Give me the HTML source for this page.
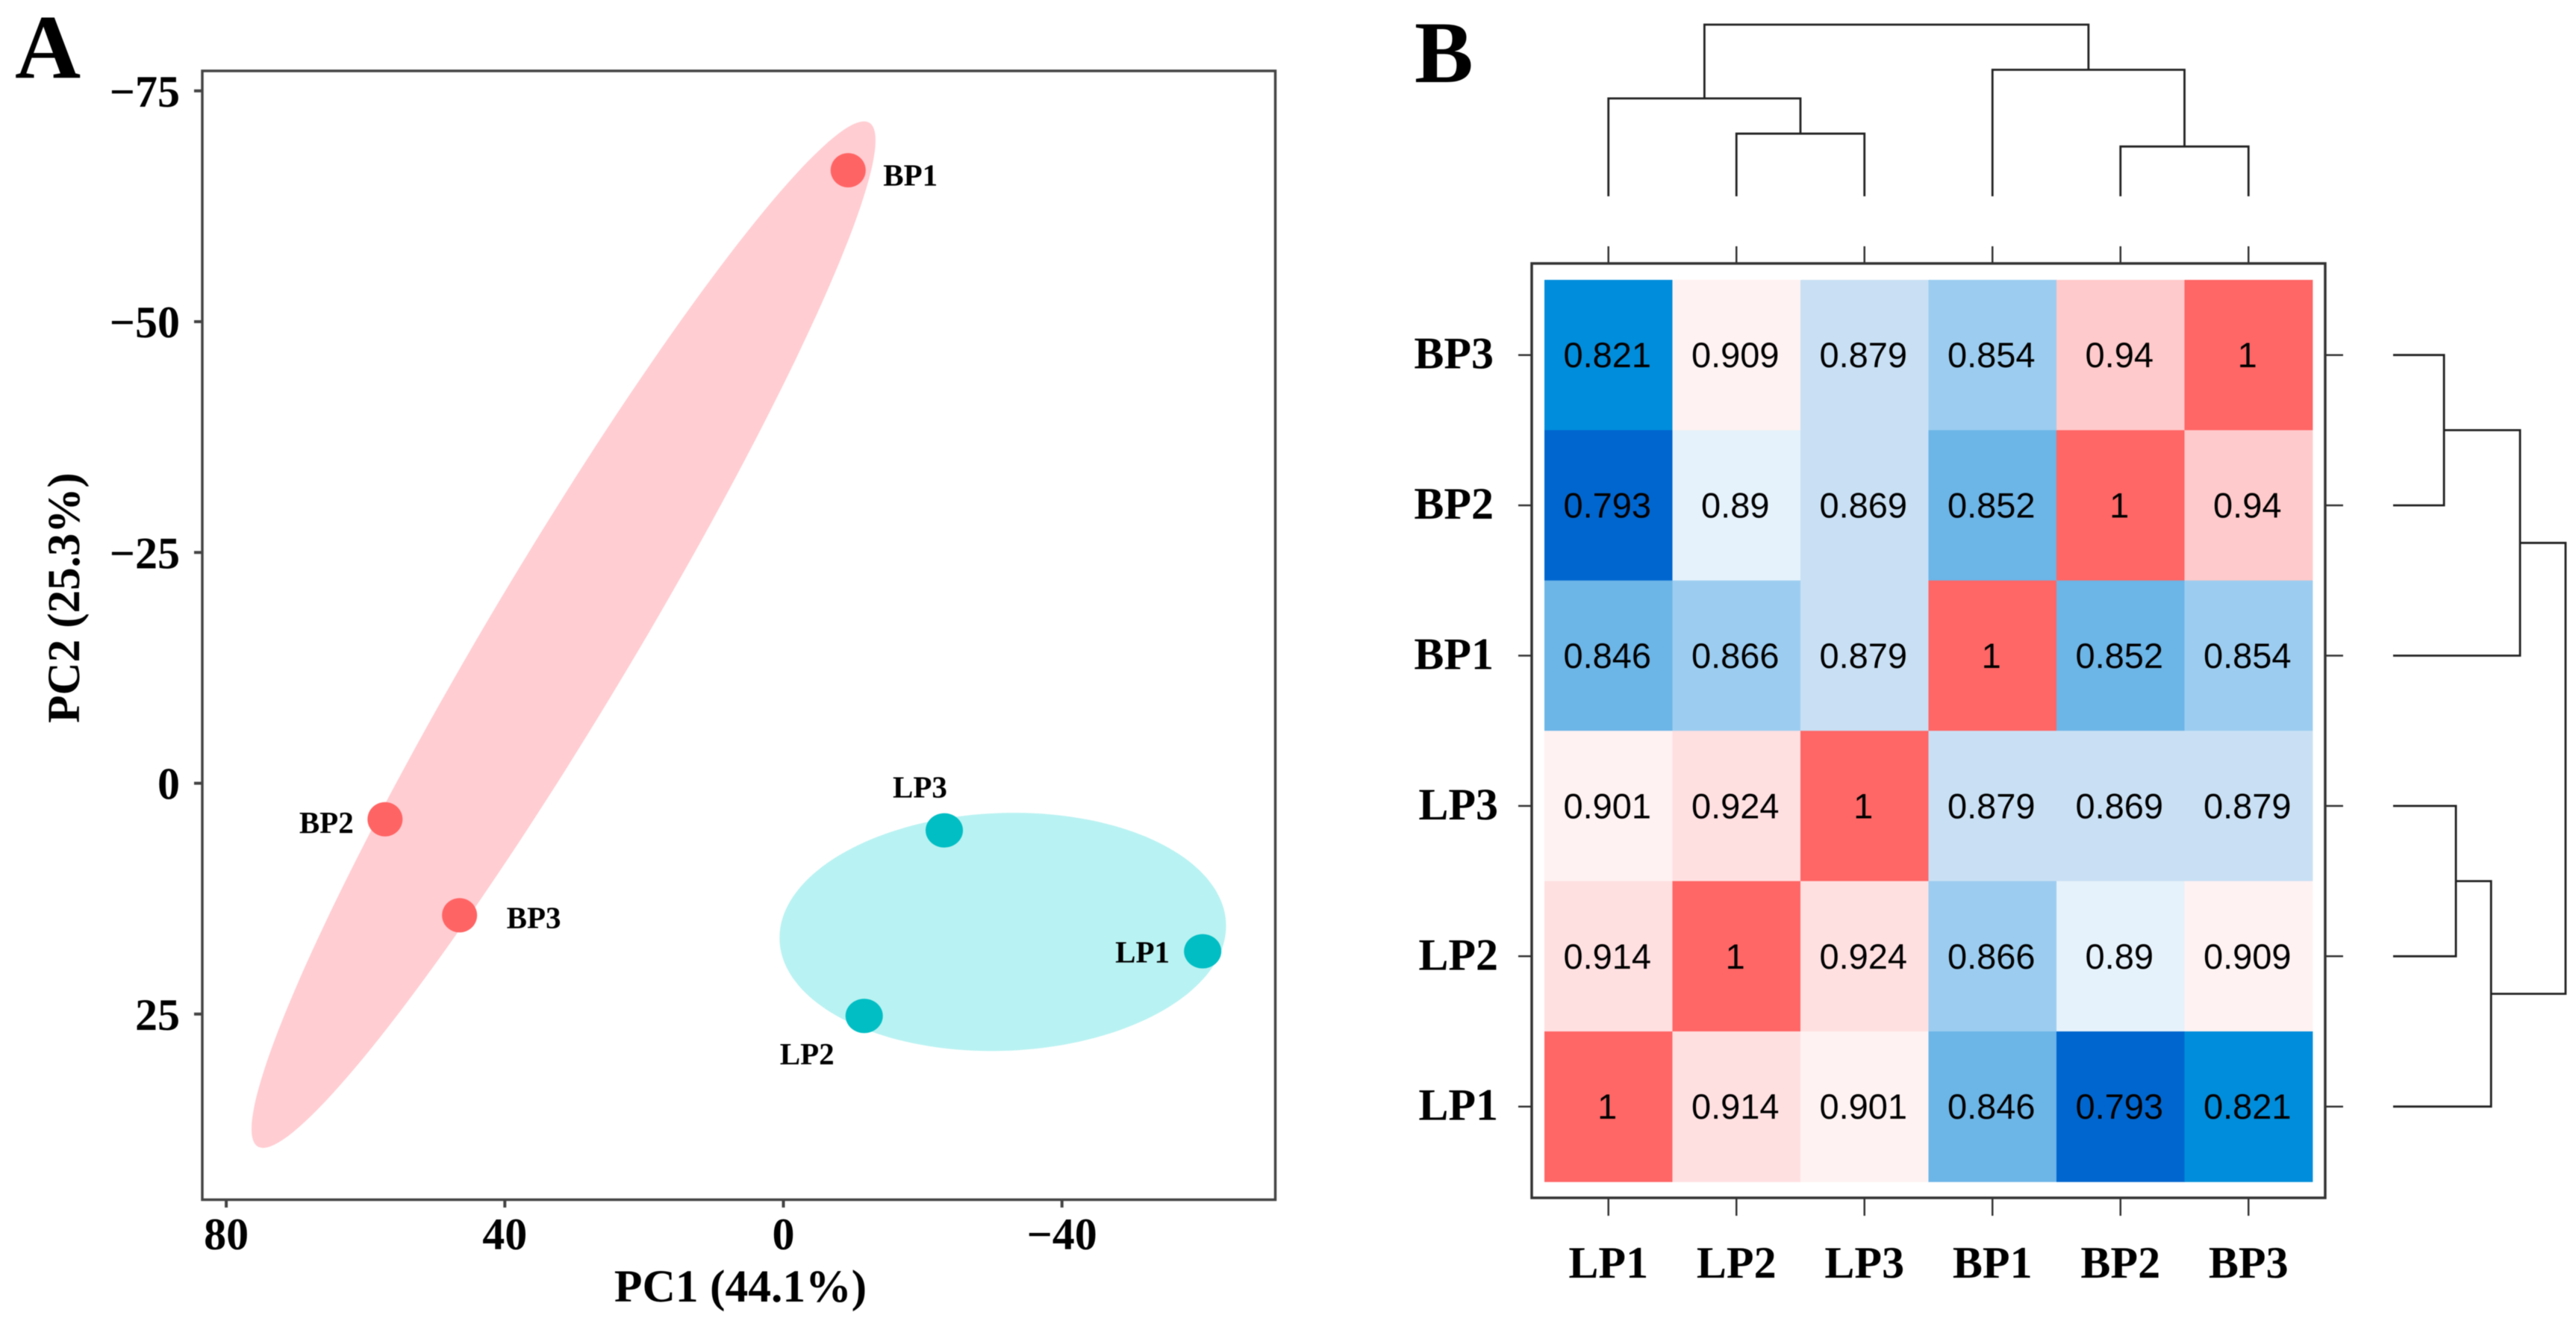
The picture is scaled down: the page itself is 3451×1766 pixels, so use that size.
<!DOCTYPE html>
<html lang="en">
<head>
<meta charset="utf-8">
<title>PCA and correlation heatmap</title>
<style>
html,body{margin:0;padding:0;background:#fff;}
body{width:3451px;height:1766px;overflow:hidden;}
svg{display:block;filter:blur(0.6px);}
text{font-family:"Liberation Serif",serif;font-weight:bold;fill:#000;}
.cell-value{font-family:"Liberation Sans",sans-serif;font-weight:normal;}
</style>
</head>
<body>
<svg id="figure" xmlns="http://www.w3.org/2000/svg" width="3451" height="1766" viewBox="0 0 3451 1766">
  <rect x="0" y="0" width="3451" height="1766" fill="#ffffff"/>
  <text x="20" y="104" font-size="122">A</text>
  <text x="1895" y="110" font-size="118">B</text>
  <g id="pca-ellipses"></g>
  <rect x="271" y="95" width="1437.5" height="1512.5" fill="none" stroke="#444444" stroke-width="3.5"/>
  <g id="pca-axes"></g>
  <g id="pca-points"></g>
  <text x="992" y="1744" font-size="61.5" text-anchor="middle">PC1 (44.1%)</text>
  <text transform="translate(106,801) rotate(-90)" font-size="61" text-anchor="middle">PC2 (25.3%)</text>
  <g id="heatmap-cells"></g>
  <rect x="2052" y="353" width="1063" height="1252" fill="none" stroke="#333333" stroke-width="3.5"/>
  <g id="heatmap-axes"></g>
  <g id="column-dendrogram"></g>
  <g id="row-dendrogram"></g>
</svg>
<script>
// PCA data
const sampleNames = ['BP1', 'BP2', 'BP3', 'LP1', 'LP2', 'LP3'];
const pc1Scores = [-9.3, 57.2, 46.5, -60.2, -11.6, -23.1];
const pc2Scores = [-66.4, 3.9, 14.3, 18.2, 25.2, 5.1];
const sampleGroups = ['BP', 'BP', 'BP', 'LP', 'LP', 'LP'];
const pc1Ticks = [80, 40, 0, -40];
const pc2Ticks = [-75, -50, -25, 0, 25];

// Group ellipses in data units
const ellipseGroups = ['BP', 'LP'];
const ellipseCenterPc1 = [31.57, -31.5];
const ellipseCenterPc2 = [-16.1, 16.1];
const ellipseRadiusPc1 = [44.8, 32.06];
const ellipseRadiusPc2 = [55.6, 12.9];
const ellipseCorrelation = [0.963, 0.05];

// Correlation heatmap data
const heatmapColumns = ['LP1', 'LP2', 'LP3', 'BP1', 'BP2', 'BP3'];
const heatmapRows = ['BP3', 'BP2', 'BP1', 'LP3', 'LP2', 'LP1'];
const rowBP3 = [0.821, 0.909, 0.879, 0.854, 0.94, 1];
const rowBP2 = [0.793, 0.89, 0.869, 0.852, 1, 0.94];
const rowBP1 = [0.846, 0.866, 0.879, 1, 0.852, 0.854];
const rowLP3 = [0.901, 0.924, 1, 0.879, 0.869, 0.879];
const rowLP2 = [0.914, 1, 0.924, 0.866, 0.89, 0.909];
const rowLP1 = [1, 0.914, 0.901, 0.846, 0.793, 0.821];
const heatmapMatrix = [rowBP3, rowBP2, rowBP1, rowLP3, rowLP2, rowLP1];

// Colour bins for the heatmap
const binUpperBounds = [0.81, 0.835, 0.853, 0.867, 0.885, 0.895, 0.911, 0.93, 0.97, 1.01];
const binColors = ['#0066cf', '#008ddb', '#6cb5e7', '#9ccdf0', '#c9e0f4', '#e6f2fb', '#fff2f2', '#ffe0e1', '#ffcacb', '#ff6666'];

// Dendrogram merges: leaf indices and normalised merge heights
const columnTree = {h: 1, kids: [{h: 0.57, kids: [0, {h: 0.365, kids: [1, 2]}]}, {h: 0.737, kids: [3, {h: 0.29, kids: [4, 5]}]}]};
const rowTree = {h: 1, kids: [{h: 0.736, kids: [{h: 0.295, kids: [0, 1]}, 2]}, {h: 0.568, kids: [{h: 0.364, kids: [3, 4]}, 5]}]};

const NS = 'http://www.w3.org/2000/svg';
function make(parent, tag, attrs, content) {
  const el = document.createElementNS(NS, tag);
  for (const k in attrs) el.setAttribute(k, attrs[k]);
  if (content !== undefined) el.textContent = content;
  parent.appendChild(el);
  return el;
}
function formatTick(v) { return v < 0 ? '\u2212' + Math.abs(v) : String(v); }

// PCA axis functions
function xPca(v) { return 1049.5 - 9.33 * v; }
function yPca(v) { return 1049.5 + 12.37 * v; }

// Ellipses
const ellipseFill = {BP: '#ffcdd2', LP: '#b9f2f2'};
const ellipsesLayer = document.getElementById('pca-ellipses');
ellipseGroups.forEach(function (g, i) {
  const phi = Math.acos(ellipseCorrelation[i]);
  let d = '';
  for (let k = 0; k < 180; k++) {
    const t = k / 180 * 2 * Math.PI;
    const px = ellipseCenterPc1[i] + ellipseRadiusPc1[i] * Math.cos(t);
    const py = ellipseCenterPc2[i] + ellipseRadiusPc2[i] * Math.cos(t + phi);
    d += (k ? 'L' : 'M') + xPca(px).toFixed(1) + ' ' + yPca(py).toFixed(1);
  }
  const path = make(ellipsesLayer, 'path', {d: d + 'Z', fill: ellipseFill[g]});
  
  
});

// PCA axes
const pcaAxes = document.getElementById('pca-axes');
pc1Ticks.forEach(function (v) {
  const x = xPca(v);
  const tick = make(pcaAxes, 'line', {x1: x, x2: x, y1: 1607, y2: 1618, stroke: '#444444', 'stroke-width': 4});
  
  
  const label = make(pcaAxes, 'text', {x: x, y: 1674, 'font-size': 60, 'text-anchor': 'middle'}, formatTick(v));
  
  
});
pc2Ticks.forEach(function (v) {
  const y = yPca(v);
  const tick = make(pcaAxes, 'line', {x1: 260, x2: 271, y1: y, y2: y, stroke: '#444444', 'stroke-width': 4});
  
  
  const label = make(pcaAxes, 'text', {x: 241, y: y + 21, 'font-size': 60, 'text-anchor': 'end'}, formatTick(v));
  
  
});

// PCA points and their labels
const pointFill = {BP: '#ff6464', LP: '#00bec4'};
const pointWidth = {BP: 23.5, LP: 25};
const labelShift = {BP1: [47, 20.5], BP2: [-115, 18.5], BP3: [63, 17], LP1: [-117, 15], LP2: [-113, 65], LP3: [-69, -44]};
const pointsLayer = document.getElementById('pca-points');
sampleNames.forEach(function (name, i) {
  const cx = xPca(pc1Scores[i]);
  const cy = yPca(pc2Scores[i]);
  const group = sampleGroups[i];
  const dot = make(pointsLayer, 'ellipse', {cx: cx, cy: cy, rx: pointWidth[group], ry: 23, fill: pointFill[group]});
  
  
  const label = make(pointsLayer, 'text', {x: cx + labelShift[name][0], y: cy + labelShift[name][1], 'font-size': 41}, name);
  
  
});

// Heatmap axis functions
function xBand(i) { return 2069 + 171.5 * i; }
function yBand(i) { return 375 + 201.4 * i; }
function xCenter(i) { return xBand(i) + 85.75; }
function yCenter(i) { return yBand(i) + 100.7; }
function colorFor(v) {
  for (let b = 0; b < binUpperBounds.length; b++) {
    if (v <= binUpperBounds[b]) return binColors[b];
  }
  return binColors[binColors.length - 1];
}

// Heatmap cells
const cellsLayer = document.getElementById('heatmap-cells');
heatmapMatrix.forEach(function (row, r) {
  row.forEach(function (v, c) {
    const cell = make(cellsLayer, 'rect', {x: xBand(c), y: yBand(r), width: 171.9, height: 201.8, fill: colorFor(v)});
    
    
  });
});
heatmapMatrix.forEach(function (row, r) {
  row.forEach(function (v, c) {
    const txt = make(cellsLayer, 'text', {class: 'cell-value', x: xCenter(c) - 1.5, y: yCenter(r) + 16.5, 'font-size': 47, 'text-anchor': 'middle'}, String(v));
    
    
  });
});

// Heatmap axes
const heatAxes = document.getElementById('heatmap-axes');
heatmapColumns.forEach(function (name, i) {
  const x = xCenter(i);
  const top = make(heatAxes, 'line', {x1: x, x2: x, y1: 330, y2: 353, stroke: '#333333', 'stroke-width': 2.5});
  
  
  const bottom = make(heatAxes, 'line', {x1: x, x2: x, y1: 1605, y2: 1629, stroke: '#333333', 'stroke-width': 2.5});
  
  
  const label = make(heatAxes, 'text', {x: x, y: 1712, 'font-size': 60, 'text-anchor': 'middle'}, name);
  
  
});
heatmapRows.forEach(function (name, i) {
  const y = yCenter(i);
  const left = make(heatAxes, 'line', {x1: 2034, x2: 2052, y1: y, y2: y, stroke: '#333333', 'stroke-width': 2.5});
  
  
  const right = make(heatAxes, 'line', {x1: 3115, x2: 3139, y1: y, y2: y, stroke: '#333333', 'stroke-width': 2.5});
  
  
  const labelRight = name.charAt(0) === 'B' ? 2001 : 2007;
  const label = make(heatAxes, 'text', {x: labelRight, y: y + 18, 'font-size': 60, 'text-anchor': 'end'}, name);
  
  
});

// Dendrograms
function yColumnHeight(h) { return 263 - 230 * h; }
function xRowHeight(h) { return 3206 + 231 * h; }

function drawColumnNode(node, layer) {
  if (typeof node === 'number') return {pos: xCenter(node), h: 0};
  const a = drawColumnNode(node.kids[0], layer);
  const b = drawColumnNode(node.kids[1], layer);
  const y = yColumnHeight(node.h);
  const pts = [a.pos, yColumnHeight(a.h), a.pos, y, b.pos, y, b.pos, yColumnHeight(b.h)].join(' ');
  const link = make(layer, 'polyline', {points: pts, fill: 'none', stroke: '#222222', 'stroke-width': 2.8});
  
  
  return {pos: (a.pos + b.pos) / 2, h: node.h};
}
function drawRowNode(node, layer) {
  if (typeof node === 'number') return {pos: yCenter(node), h: 0};
  const a = drawRowNode(node.kids[0], layer);
  const b = drawRowNode(node.kids[1], layer);
  const x = xRowHeight(node.h);
  const pts = [xRowHeight(a.h), a.pos, x, a.pos, x, b.pos, xRowHeight(b.h), b.pos].join(' ');
  const link = make(layer, 'polyline', {points: pts, fill: 'none', stroke: '#222222', 'stroke-width': 2.8});
  
  
  return {pos: (a.pos + b.pos) / 2, h: node.h};
}
drawColumnNode(columnTree, document.getElementById('column-dendrogram'));
drawRowNode(rowTree, document.getElementById('row-dendrogram'));
</script>
</body>
</html>
